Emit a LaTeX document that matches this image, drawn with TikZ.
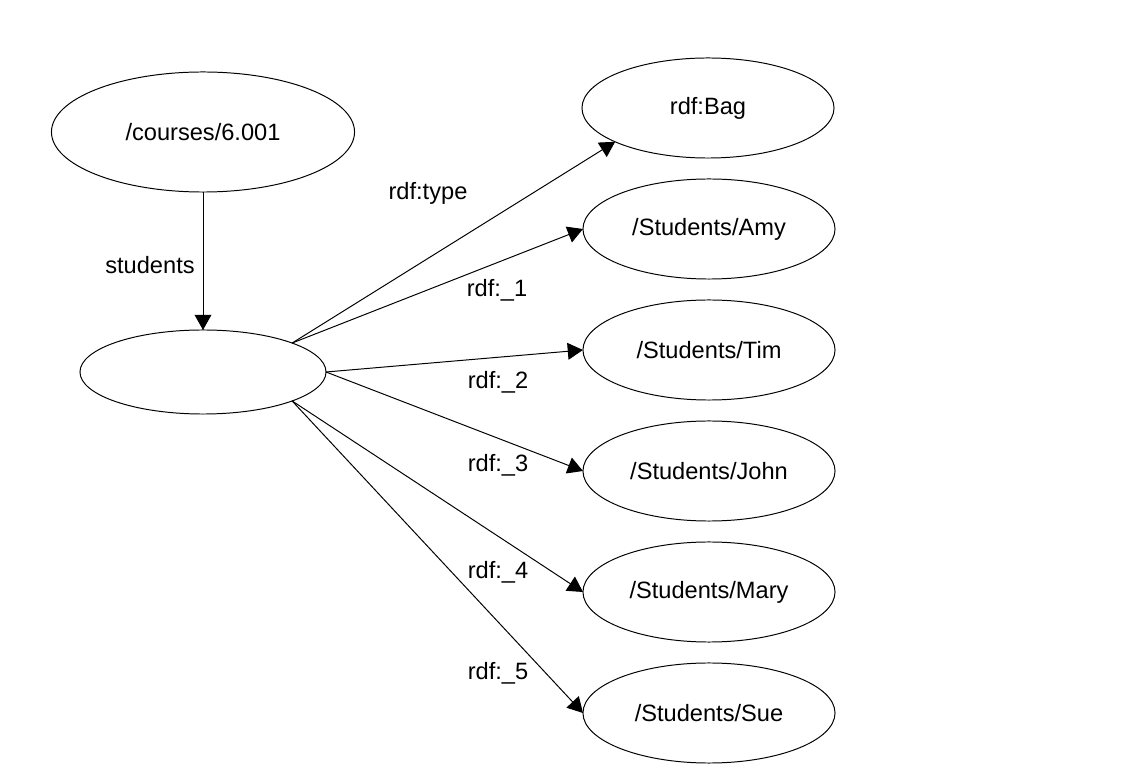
\documentclass[tikz,border=0pt]{standalone}
\usepackage{fontspec}
\setmainfont{Liberation Sans}
\usetikzlibrary{shapes.geometric,arrows.meta}
\begin{document}
\begin{tikzpicture}[x=0.025cm,y=-0.025cm,every node/.style={font=\fontsize{16.8}{20}\selectfont, inner sep=0pt, outer sep=0pt},
  res/.style={ellipse,draw,line width=0.7pt,minimum width=6.3cm,minimum height=2.5cm},
  arc/.style={line width=0.7pt,-{Triangle[length=0.38cm,width=0.42cm]}}]
\useasboundingbox[fill=white] (0,0) rectangle (1134,780);
\node[res,minimum width=7.575cm,minimum height=3cm] (course) at (203,132) {/courses/6.001};
\node[res,minimum width=6.15cm,minimum height=2.1cm] (bagnode) at (203,372) {};
\node[res] (bag) at (708,108) {rdf:Bag};
\node[res] (amy) at (709,229) {/Students/Amy};
\node[res] (tim) at (709,350) {/Students/Tim};
\node[res] (john) at (709,471) {/Students/John};
\node[res] (mary) at (709,592) {/Students/Mary};
\node[res] (sue) at (709,713) {/Students/Sue};
\node (lstudents) at (150,265) {students};
\node (ltype) at (428,193) {rdf:type};
\node (lone) at (497,290) {rdf:\_1};
\node (ltwo) at (498,382) {rdf:\_2};
\node (lthree) at (498,465) {rdf:\_3};
\node (lfour) at (498,572) {rdf:\_4};
\node (lfive) at (498,673) {rdf:\_5};
\draw[arc] (course) -- (bagnode);
\draw[arc] (bagnode.18) -- (bag.200);
\draw[arc] (bagnode.18) -- (amy.west);
\draw[arc] (bagnode.east) -- (tim.west);
\draw[arc] (bagnode.east) -- (john.west);
\draw[arc] (bagnode.-18) -- (mary.west);
\draw[arc] (bagnode.-18) -- (sue.west);
\end{tikzpicture}
\end{document}
